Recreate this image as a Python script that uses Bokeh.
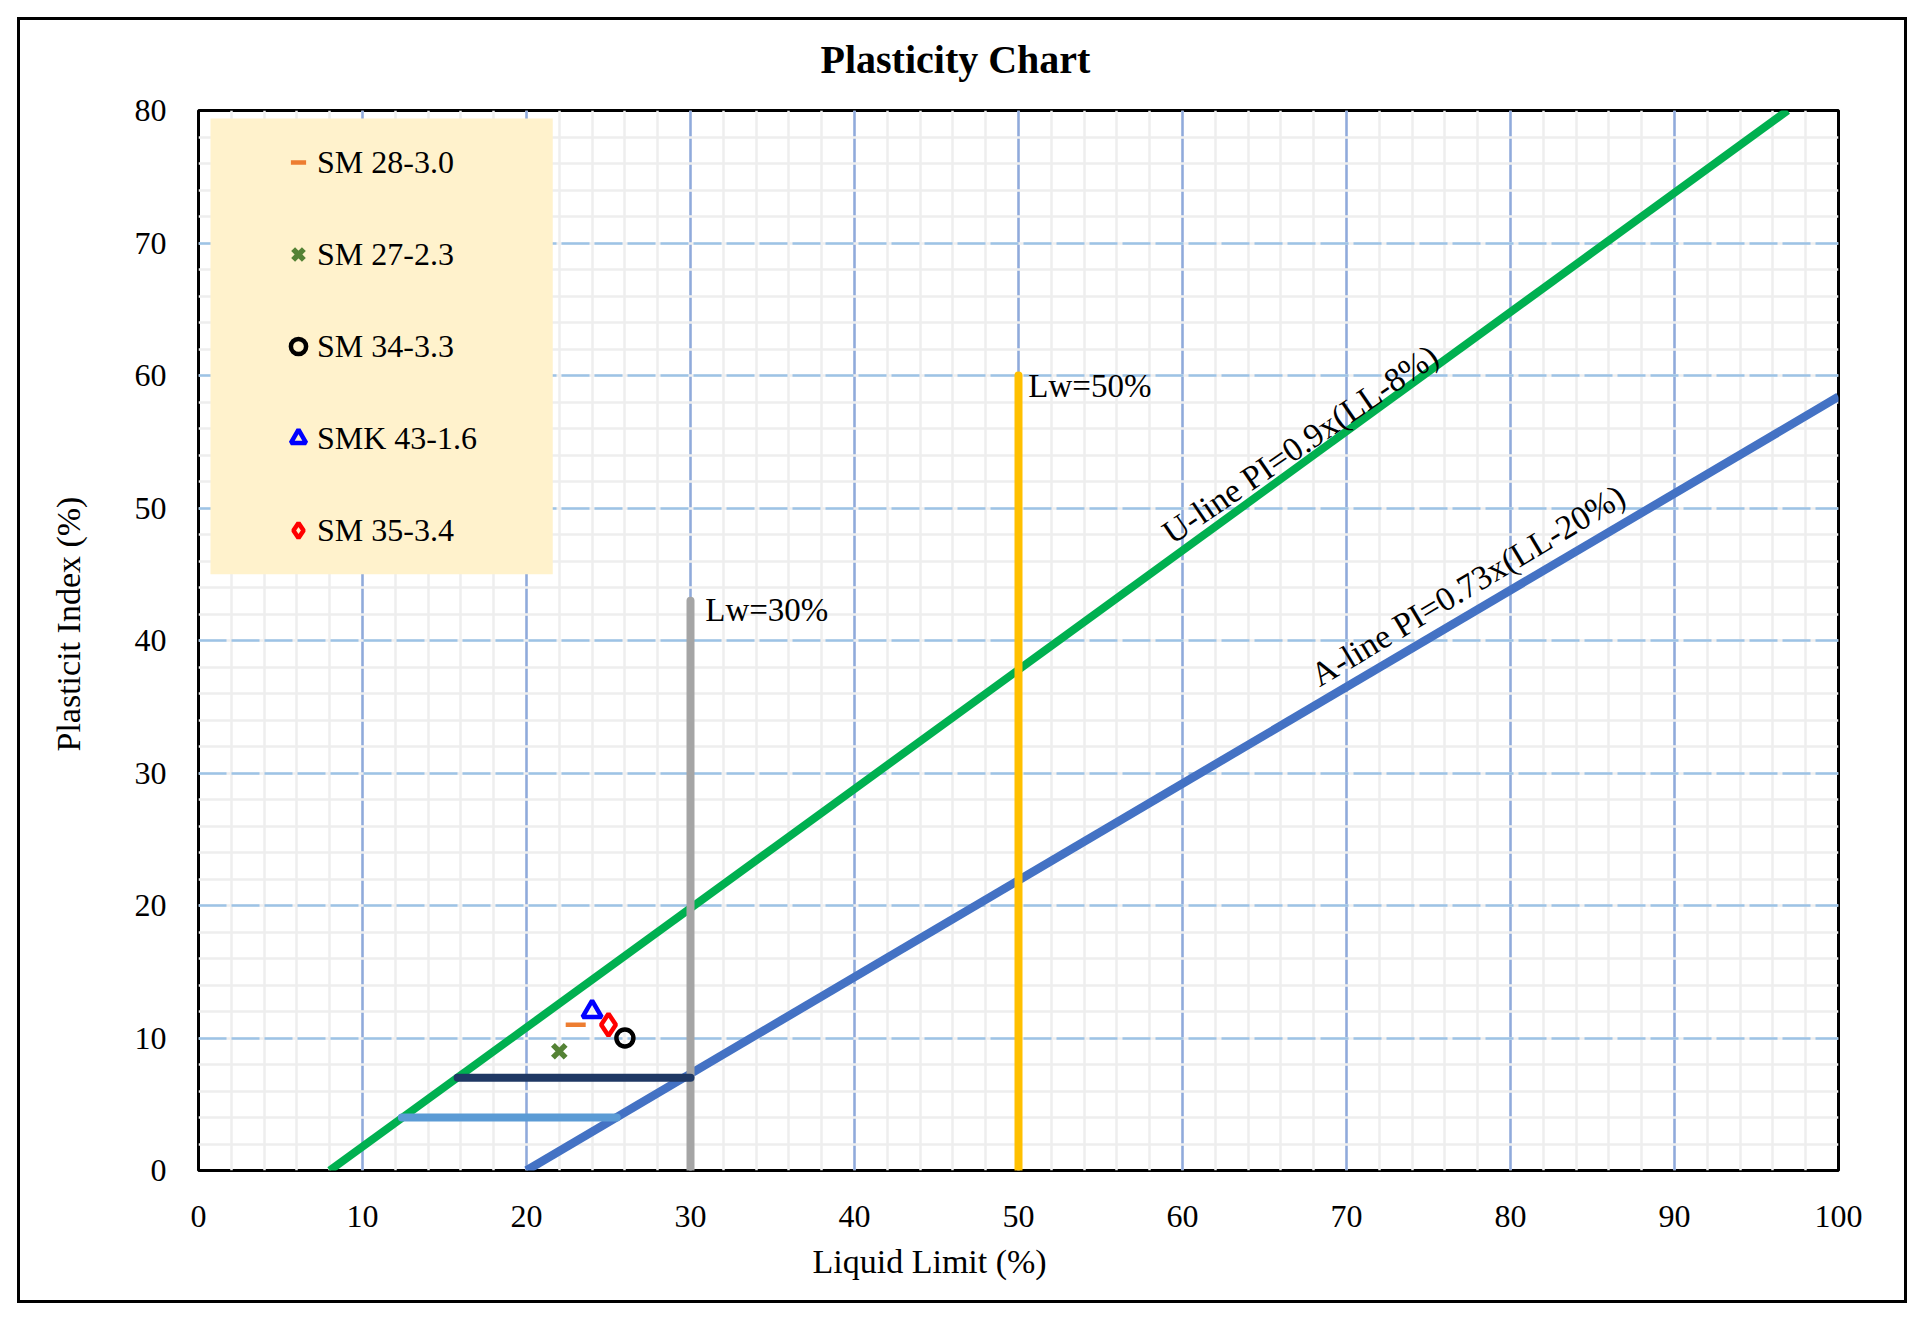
from bokeh.plotting import figure
from bokeh.models import Range1d, SingleIntervalTicker, Legend, LegendItem, Label, BoxAnnotation, Title
from bokeh.embed import file_html
from bokeh.resources import INLINE

# ---------------- data ----------------
u_line_ll = [8, 96.9]
u_line_pi = [0, 80]
a_line_ll = [20, 100]
a_line_pi = [0, 58.4]
lw30_ll = [30, 30]
lw30_pi = [0, 43]
lw50_ll = [50, 50]
lw50_pi = [0, 60]
cl_ll = [15.8, 30]
cl_pi = [7, 7]
clml_ll = [12.4, 25.5]
clml_pi = [4, 4]

sample_names = ["SM 28-3.0", "SM 27-2.3", "SM 34-3.3", "SMK 43-1.6", "SM 35-3.4"]
sample_ll = [23, 22, 26, 24, 25]
sample_pi = [11, 9, 10, 12, 11]

x_ticks_interval = 10
y_ticks_interval = 10

FONT = "Liberation Serif"

p = figure(width=1914, height=1310, output_backend="svg", toolbar_location=None,
           x_range=Range1d(0, 100), y_range=Range1d(0, 80),
           min_border_left=198, min_border_right=76, min_border_top=110, min_border_bottom=140)
# outer chart border drawn as an inset frame of the page element
p.styles = {"box-shadow": "inset 5px 5px 0 12px white, inset 5px 5px 0 15px black",
            "background-color": "white"}
p.border_fill_alpha = 0
p.background_fill_color = "white"
p.outline_line_color = "black"
p.outline_line_width = 3

# title
p.title.text = "Plasticity  Chart"
p.title.align = "left"
p.title.offset = 622
p.title.standoff = 57
p.title.text_font = FONT
p.title.text_font_size = "40px"
p.title.text_font_style = "bold"
p.title.text_color = "black"

xt = SingleIntervalTicker(interval=x_ticks_interval, num_minor_ticks=5)
yt = SingleIntervalTicker(interval=y_ticks_interval, num_minor_ticks=5)
p.xaxis.ticker = xt
p.yaxis.ticker = yt
p.xgrid.ticker = xt
p.ygrid.ticker = yt

p.xgrid.grid_line_color = "#8FAADC"
p.xgrid.grid_line_width = 2.5
p.ygrid.grid_line_color = "#9DC3E6"
p.ygrid.grid_line_width = 2.5
p.ygrid.grid_line_dash = "28 5"
for g in (p.xgrid, p.ygrid):
    g.minor_grid_line_color = "#EEEEEE"
    g.minor_grid_line_width = 2.5

for ax in (p.xaxis, p.yaxis):
    ax.axis_line_color = None
    ax.major_tick_line_color = None
    ax.minor_tick_line_color = None
    ax.major_tick_out = 0
    ax.major_tick_in = 0
    ax.major_label_text_font = FONT
    ax.major_label_text_font_size = "32px"
    ax.major_label_text_color = "black"

p.xaxis.major_label_standoff = 31
p.yaxis.major_label_standoff = 28

# axis titles
p.add_layout(Title(text="Liquid Limit (%)", align="left", offset=614, standoff=23,
                   text_font=FONT, text_font_size="34px", text_font_style="normal",
                   text_color="black"), "below")
p.add_layout(Title(text="Plasticit Index (%)", align="left", offset=419, standoff=89,
                   text_font=FONT, text_font_size="34px", text_font_style="normal",
                   text_color="black"), "left")

# legend background
p.add_layout(BoxAnnotation(left=0.73, right=21.6, bottom=45.0, top=79.4,
                           fill_color="#FFF2CC", fill_alpha=1, line_color=None))

# reference lines
p.line(u_line_ll, u_line_pi, line_color="#00B050", line_width=8)
p.line(a_line_ll, a_line_pi, line_color="#4472C4", line_width=8.5)
p.line(lw30_ll, lw30_pi, line_color="#A5A5A5", line_width=8, line_cap="round")
p.line(lw50_ll, lw50_pi, line_color="#FFC000", line_width=8, line_cap="round")
p.line(cl_ll, cl_pi, line_color="#1F3864", line_width=8, line_cap="round")
p.line(clml_ll, clml_pi, line_color="#5B9BD5", line_width=8, line_cap="round")

# samples
styles = [
    dict(marker="dash", size=20, line_color="#ED7D31", line_width=4.5),
    dict(marker="x", size=18, line_color="#548235", line_width=5.5),
    dict(marker="circle", size=17, line_color="black", fill_color=None, line_width=4.5),
    dict(marker="triangle", size=19, line_color="#0000FF", fill_color=None, line_width=4.5),
    dict(marker="diamond", size=22, line_color="#FF0000", fill_color=None, line_width=4.5),
]
renderers = []
for i, st in enumerate(styles):
    r = p.scatter([sample_ll[i]], [sample_pi[i]], **st)
    renderers.append(r)

legend = Legend(items=[LegendItem(label=sample_names[i], renderers=[renderers[i]]) for i in range(5)],
                location=(81, 619), margin=0, padding=0, spacing=50,
                glyph_width=38, glyph_height=42, label_height=42, label_standoff=0,
                label_text_font=FONT, label_text_font_size="32px", label_text_color="black",
                background_fill_alpha=0, border_line_color=None)
p.add_layout(legend)

# text labels
p.add_layout(Label(x=30.9, y=42.3, text="Lw=30%", text_baseline="alphabetic",
                   text_font=FONT, text_font_size="33px", text_color="black"))
p.add_layout(Label(x=50.6, y=59.2, text="Lw=50%", text_baseline="alphabetic",
                   text_font=FONT, text_font_size="33px", text_color="black"))
p.add_layout(Label(x=59.0, y=47.9, text="U-line  PI=0.9x(LL-8%)", text_baseline="alphabetic",
                   angle=0.6, text_font=FONT, text_font_size="34px", text_color="black"))
p.add_layout(Label(x=68.0, y=37.2, text="A-line  PI=0.73x(LL-20%)", text_baseline="alphabetic",
                   angle=0.54, text_font=FONT, text_font_size="34px", text_color="black"))

open("out.html", "w").write(file_html(p, INLINE))
